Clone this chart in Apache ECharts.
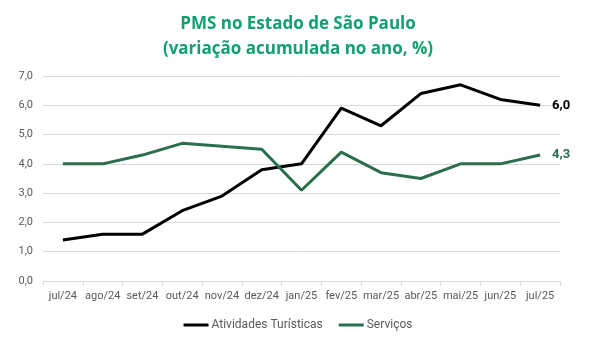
<!DOCTYPE html>
<html>
<head>
<meta charset="utf-8">
<script src="https://cdn.jsdelivr.net/npm/echarts@6/dist/echarts.min.js"></script>
<style>
  html, body { margin: 0; padding: 0; background: #fff; }
  #chart { width: 596px; height: 350px; }
</style>
</head>
<body>
<div id="chart"></div>
<script>
var categories = ["jul/24", "ago/24", "set/24", "out/24", "nov/24", "dez/24", "jan/25",
  "fev/25", "mar/25", "abr/25", "mai/25", "jun/25", "jul/25"];
var turismo = [1.4, 1.6, 1.6, 2.4, 2.9, 3.8, 4.0, 5.9, 5.3, 6.4, 6.7, 6.2, 6.0];
var servicos = [4.0, 4.0, 4.3, 4.7, 4.6, 4.5, 3.1, 4.4, 3.7, 3.5, 4.0, 4.0, 4.3];

function fmt(v) {
  return v.toFixed(1).replace(".", ",");
}

var chart = echarts.init(document.getElementById("chart"));

function lineSeries(name, data, color) {
  return {
    name: name,
    type: "line",
    data: data,
    symbol: "none",
    lineStyle: { color: color, width: 3 },
    itemStyle: { color: color },
    endLabel: {
      show: true,
      distance: 12,
      color: color,
      fontWeight: "bold",
      fontSize: 13,
      fontFamily: "Roboto",
      formatter: function(p) { return fmt(p.value); }
    }
  };
}

var option = {
  animation: false,
  title: {
    text: "PMS no Estado de São Paulo\n(variação acumulada no ano, %)",
    left: "center",
    top: 7,
    textStyle: {
      color: "#12a070",
      fontSize: 17,
      fontWeight: "bold",
      fontFamily: "Open Sans",
      lineHeight: 25
    }
  },
  grid: { left: 43, right: 36, top: 76, bottom: 69 },
  legend: {
    bottom: 14,
    left: "center",
    itemWidth: 25,
    itemHeight: 3,
    itemGap: 16,
    icon: "rect",
    textStyle: { color: "#595959", fontSize: 12, fontFamily: "Roboto", padding: [0, 0, 0, -2] },
    data: ["Atividades Turísticas", "Serviços"]
  },
  xAxis: {
    type: "category",
    data: categories,
    boundaryGap: true,
    axisLine: { lineStyle: { color: "#d9d9d9" } },
    axisTick: { show: true, length: 5, lineStyle: { color: "#d9d9d9" } },
    axisLabel: { color: "#595959", fontSize: 11, fontFamily: "Roboto", margin: 10, interval: 0 }
  },
  yAxis: {
    type: "value",
    min: 0,
    max: 7,
    interval: 1,
    axisLine: { show: false },
    axisTick: { show: false },
    splitLine: { lineStyle: { color: "#d9d9d9" } },
    axisLabel: {
      color: "#595959",
      fontSize: 11,
      fontFamily: "Roboto",
      margin: 10,
      formatter: function(v) { return fmt(v); }
    }
  },
  series: [
    lineSeries("Atividades Turísticas", turismo, "#000000"),
    lineSeries("Serviços", servicos, "#2a6e4c")
  ]
};

chart.setOption(option);
</script>
</body>
</html>
